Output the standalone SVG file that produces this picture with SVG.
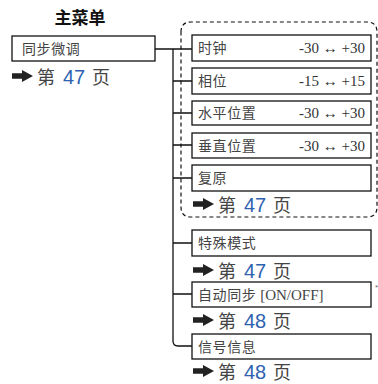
<svg xmlns="http://www.w3.org/2000/svg" width="378" height="384" viewBox="0 0 378 384">
<defs>
<style>
.box{fill:#fff;stroke:#111;stroke-width:1.3}
.lbl{font-family:"Noto Sans CJK SC","Liberation Sans",sans-serif;font-size:14px;letter-spacing:0.6px;fill:#444}
.rng{font-family:"Liberation Serif",serif;font-size:15px;fill:#333}
.pg{font-family:"Noto Sans CJK SC",sans-serif;font-size:18px;fill:#444}
.num{font-family:"Liberation Sans",sans-serif;font-size:20px;fill:#2e62b0}
.ln{fill:none;stroke:#111;stroke-width:1.3}
</style>
<path id="arr" d="M0,-2.8 H10 V-6 L21,0 L10,6 V2.8 H0 Z" fill="#222"/>
</defs>
<text x="80" y="24" text-anchor="middle" font-family="Noto Sans CJK SC,sans-serif" font-size="17" font-weight="bold" fill="#111">主菜单</text>
<g id="connectors">
<path class="ln" d="M155,49 H192"/>
<path class="ln" d="M173,49 V341 Q173,346 178,346 H192"/>
<path class="ln" d="M173,81 H192 M173,113 H192 M173,145 H192 M173,178 H192 M173,243 H192 M173,294 H192"/>
<path d="M181,32 Q181,22 191,22 H367 Q377,22 377,32 V207 Q377,217 367,217 H191 Q181,217 181,207 Z" fill="none" stroke="#111" stroke-width="1.2" stroke-dasharray="4,3"/>
</g>
<g id="main">
<rect class="box" x="12" y="36" width="143" height="25"/>
<text class="lbl" x="22" y="54">同步微调</text>
<use href="#arr" x="12" y="76"/>
<text class="pg" x="37" y="84">第</text><text class="num" x="63" y="84">47</text><text class="pg" x="92" y="84">页</text>
</g>
<g id="clock">
<rect class="box" x="192" y="35" width="179" height="26"/>
<text class="lbl" x="198" y="53">时钟</text>
<text class="rng" x="365" y="53" text-anchor="end">-30 ↔ +30</text>
</g>
<g id="phase">
<rect class="box" x="192" y="68" width="179" height="26"/>
<text class="lbl" x="198" y="86">相位</text>
<text class="rng" x="365" y="86" text-anchor="end">-15 ↔ +15</text>
</g>
<g id="hpos">
<rect class="box" x="192" y="101" width="179" height="24"/>
<text class="lbl" x="198" y="118">水平位置</text>
<text class="rng" x="365" y="118" text-anchor="end">-30 ↔ +30</text>
</g>
<g id="vpos">
<rect class="box" x="192" y="133" width="179" height="25"/>
<text class="lbl" x="198" y="151">垂直位置</text>
<text class="rng" x="365" y="151" text-anchor="end">-30 ↔ +30</text>
</g>
<g id="reset">
<rect class="box" x="192" y="165" width="179" height="26"/>
<text class="lbl" x="198" y="183">复原</text>
<use href="#arr" x="193" y="204"/>
<text class="pg" x="218" y="212">第</text><text class="num" x="244" y="212">47</text><text class="pg" x="273" y="212">页</text>
</g>
<g id="special">
<rect class="box" x="192" y="230" width="179" height="26"/>
<text class="lbl" x="198" y="248">特殊模式</text>
<use href="#arr" x="193" y="270"/>
<text class="pg" x="218" y="278">第</text><text class="num" x="244" y="278">47</text><text class="pg" x="273" y="278">页</text>
</g>
<g id="autosync">
<rect class="box" x="192" y="282" width="179" height="25"/>
<text class="lbl" x="198" y="300">自动同步 <tspan font-family="Liberation Serif,serif" font-size="15" letter-spacing="0">[ON/OFF]</tspan></text>
<text x="375" y="290" font-family="Liberation Sans,sans-serif" font-size="8" fill="#666">*</text>
<use href="#arr" x="193" y="320"/>
<text class="pg" x="218" y="328">第</text><text class="num" x="244" y="328">48</text><text class="pg" x="273" y="328">页</text>
</g>
<g id="signal">
<rect class="box" x="192" y="334" width="179" height="25"/>
<text class="lbl" x="198" y="352">信号信息</text>
<use href="#arr" x="193" y="371"/>
<text class="pg" x="218" y="379">第</text><text class="num" x="244" y="379">48</text><text class="pg" x="273" y="379">页</text>
</g>
</svg>
